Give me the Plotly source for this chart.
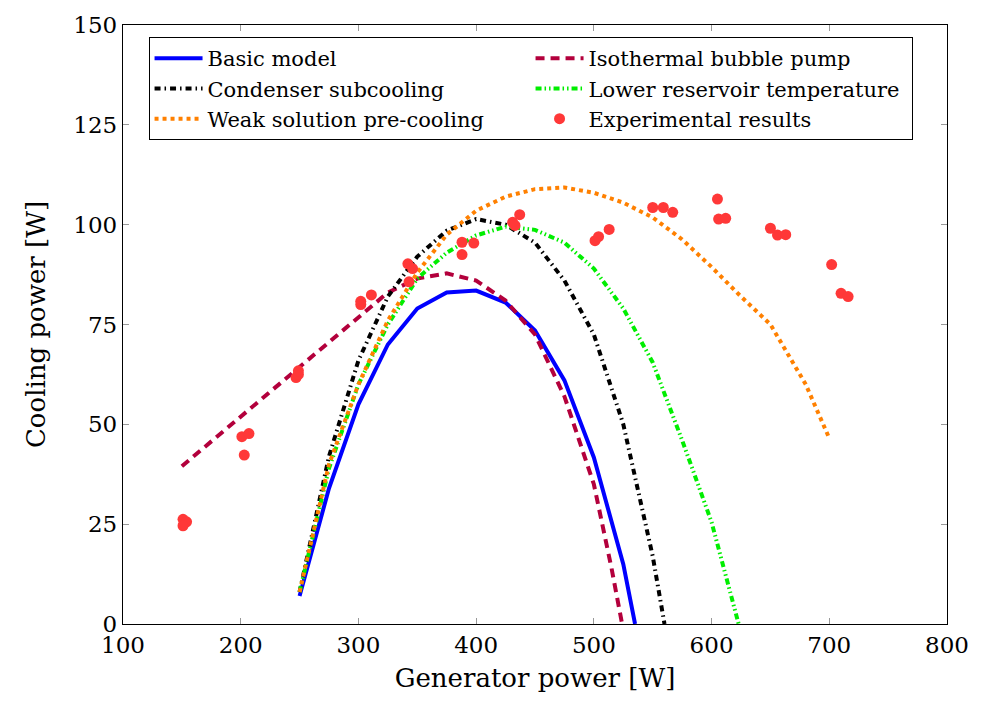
import plotly.graph_objects as go

basic_x = [250, 275, 300, 325, 350, 375, 400, 425, 450, 475, 500, 525, 535]
basic_y = [7, 34, 55, 70, 79, 83, 83.5, 80.5, 73.5, 61, 41.7, 15, 0]

iso_x = [150, 200, 250, 300, 325, 350, 375, 400, 425, 450, 475, 500, 515, 524]
iso_y = [39.5, 52, 64.5, 77, 83, 86.5, 87.8, 86, 81, 72.5, 57, 35, 14, 0]

cond_x = [250, 275, 300, 325, 350, 375, 400, 425, 450, 475, 500, 525, 550, 560]
cond_y = [8, 42, 66, 82, 92, 98.5, 101.4, 100, 95.5, 86, 72.5, 50, 17, 0]

lower_x = [250, 275, 300, 325, 350, 375, 400, 425, 450, 475, 500, 525, 550, 575, 600, 623]
lower_y = [8, 39, 60, 75, 86.5, 93, 97.3, 99.5, 98.7, 95.5, 89, 79, 65.5, 46, 25.5, 0]

weak_x = [250, 275, 300, 325, 350, 375, 400, 425, 450, 475, 500, 525, 550, 575, 600, 625, 650, 665, 680, 700]
weak_y = [8, 40, 60, 76, 88, 97.5, 103.5, 107, 108.9, 109.3, 108, 105.5, 101.8, 96.3, 89.4, 82, 75, 67.5, 60, 46.5]

exp_x = [151, 154, 151, 201, 207, 203, 247, 249, 249, 302, 302, 311, 342, 346, 343,
         388, 398, 388, 431, 437, 433, 501, 504, 513, 550, 559, 567, 605, 606, 612,
         650, 656, 663, 702, 710, 716]
exp_y = [26.2, 25.6, 24.6, 46.9, 47.7, 42.3, 61.7, 62.5, 63.4, 80.8, 80.0, 82.4, 90.2, 89, 85.7,
         95.6, 95.4, 92.5, 100.6, 102.5, 99.8, 96, 97, 98.8, 104.3, 104.3, 103.1, 106.4, 101.4, 101.6,
         99.1, 97.4, 97.5, 90, 82.8, 82]

x_ticks = [100, 200, 300, 400, 500, 600, 700, 800]
y_ticks = [0, 25, 50, 75, 100, 125, 150]

FONT = "DejaVu Serif"
W = 4

fig = go.Figure()
fig.add_trace(go.Scatter(x=basic_x, y=basic_y, mode="lines", name="Basic model",
                         line=dict(color="#0000ff", width=W), legendrank=1))
fig.add_trace(go.Scatter(x=iso_x, y=iso_y, mode="lines", name="Isothermal bubble pump",
                         line=dict(color="#b3003c", width=W, dash="9px,6px"), legendrank=2))
fig.add_trace(go.Scatter(x=cond_x, y=cond_y, mode="lines", name="Condenser subcooling",
                         line=dict(color="#000000", width=W, dash="6px,4px,1.5px,4px"), legendrank=3))
fig.add_trace(go.Scatter(x=lower_x, y=lower_y, mode="lines", name="Lower reservoir temperature",
                         line=dict(color="#00ee00", width=W, dash="6px,3px,1.5px,3px,1.5px,3px"), legendrank=4))
fig.add_trace(go.Scatter(x=weak_x, y=weak_y, mode="lines", name="Weak solution pre-cooling",
                         line=dict(color="#ff8000", width=W, dash="4px,4px"), legendrank=5))
fig.add_trace(go.Scatter(x=exp_x, y=exp_y, mode="markers", name="Experimental results",
                         marker=dict(color="#ff3838", size=11), legendrank=6))

axis_common = dict(
    showgrid=False, zeroline=False, showline=True, linecolor="black", linewidth=1.3,
    mirror="ticks", ticks="inside", ticklen=6, tickcolor="#999999", tickwidth=1,
    tickfont=dict(family=FONT, size=23, color="black"),
)

fig.update_layout(
    width=981, height=709,
    margin=dict(l=123, r=26, t=19, b=85),
    paper_bgcolor="white", plot_bgcolor="white",
    font=dict(family=FONT, color="black"),
    xaxis=dict(range=[100, 800], tickvals=x_ticks, ticktext=[str(v) for v in x_ticks],
               title=dict(text="Generator power [W]", font=dict(family=FONT, size=26), standoff=12),
               **axis_common),
    yaxis=dict(range=[0, 150], tickvals=y_ticks, ticktext=[str(v) for v in y_ticks],
               title=dict(text="Cooling power [W]", font=dict(family=FONT, size=26), standoff=20),
               **axis_common),
    legend=dict(orientation="h", x=0.031, y=0.98, xanchor="left", yanchor="top",
                bgcolor="white", bordercolor="black", borderwidth=1,
                font=dict(family=FONT, size=21, color="black"),
                entrywidth=318, entrywidthmode="pixels", itemwidth=48,
                traceorder="normal"),
    showlegend=True,
)

fig.write_html("out.html")
